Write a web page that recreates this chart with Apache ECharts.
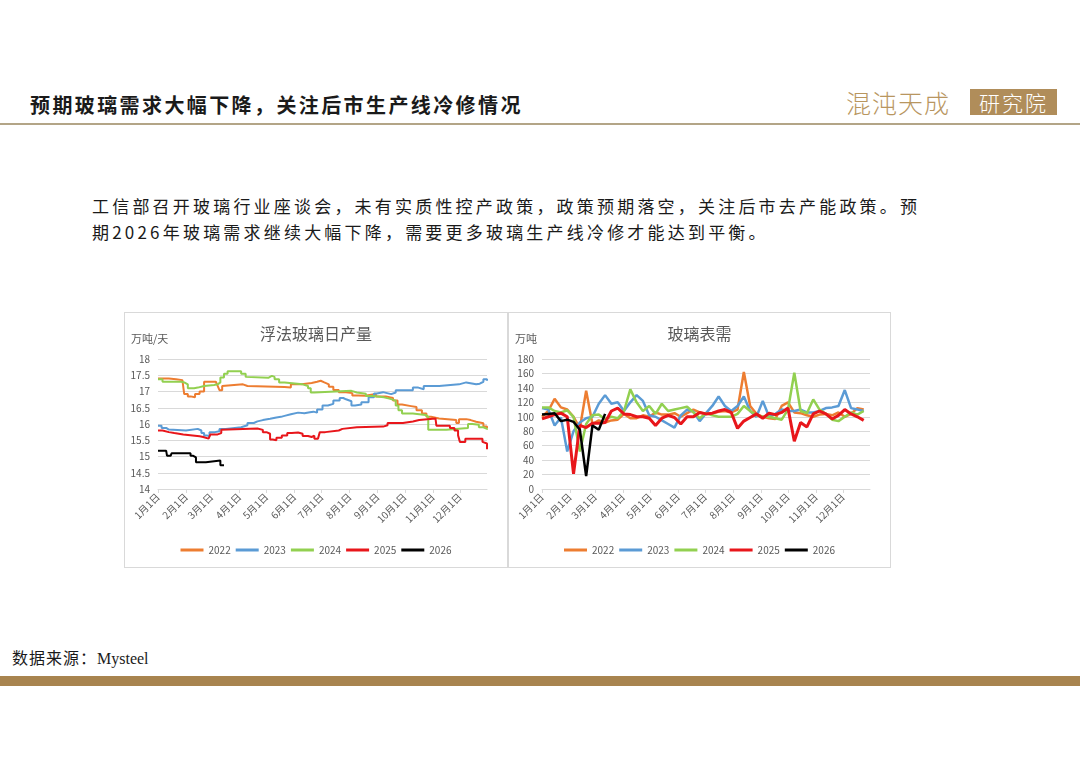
<!DOCTYPE html>
<html><head><meta charset="utf-8">
<script src="https://cdn.jsdelivr.net/npm/echarts@6/dist/echarts.min.js"></script>
<style>
body{margin:0;width:1080px;height:764px;background:#fff;position:relative;overflow:hidden;font-family:"Noto Sans CJK SC","Noto Sans",sans-serif;}
#title{position:absolute;left:30px;top:92px;font-size:20px;font-weight:bold;color:#1a1a1a;letter-spacing:2.4px;white-space:nowrap;line-height:26px;}
#sep{position:absolute;left:0;top:123px;width:1080px;height:2px;background:#b3a587;}
#logoA{position:absolute;left:846px;top:86px;font-size:25px;font-weight:300;color:#b8965f;letter-spacing:1px;white-space:nowrap;line-height:32px;}
#logoB{position:absolute;left:970px;top:89px;width:87px;height:26px;background:#b08d5a;color:#fff;font-size:21px;line-height:26px;text-align:center;letter-spacing:2px;font-weight:300;}
#para{position:absolute;left:92px;top:193px;font-size:17px;line-height:26px;color:#1a1a1a;letter-spacing:3.2px;white-space:nowrap;}
.box{position:absolute;top:312px;height:256px;border:1px solid #d9d9d9;box-sizing:border-box;background:#fff;}
#c1{left:124px;width:384px;}
#c2{left:508px;width:383px;}
#src{position:absolute;left:12px;top:648px;font-size:16px;color:#1a1a1a;line-height:22px;font-family:"Liberation Serif","Noto Sans CJK SC",serif;white-space:nowrap;}
#src span{letter-spacing:1px;}
#bar{position:absolute;left:0;top:676px;width:1080px;height:10px;background:#a8844f;}
</style></head>
<body>
<div id="title">预期玻璃需求大幅下降，关注后市生产线冷修情况</div>
<div id="logoA">混沌天成</div>
<div id="logoB">研究院</div>
<div id="sep"></div>
<div id="para">工信部召开玻璃行业座谈会，未有实质性控产政策，政策预期落空，关注后市去产能政策。预<br>期2026年玻璃需求继续大幅下降，需要更多玻璃生产线冷修才能达到平衡。</div>
<div id="c1" class="box"></div>
<div id="c2" class="box"></div>
<div id="src"><span>数据来源：</span>Mysteel</div>
<div id="bar"></div>
<script>
// ---------- shared axis data ----------
const monthLengths = [31,28,31,30,31,30,31,31,30,31,30,31];
const monthLabels = ['1月1日','2月1日','3月1日','4月1日','5月1日','6月1日','7月1日','8月1日','9月1日','10月1日','11月1日','12月1日'];
const seriesNames = ['2022','2023','2024','2025','2026'];
const seriesColors = ['#ED7D31','#5B9BD5','#92D050','#E8161B','#000000'];

// ---------- 浮法玻璃日产量 (万吨/天), [day of year, value] ----------
const prod2022 = [[0,17.4],[12,17.38],[20,17.35],[27,17.3],[29,16.92],[33,16.85],[36,16.82],[41,16.92],[46,17.0],[51,17.3],[64,17.28],[66,17.17],[68,17.04],[71,17.17],[73,17.22],[94,17.17],[99,17.14],[140,17.12],[147,17.22],[159,17.26],[170,17.3],[176,17.33],[180,17.28],[184,17.22],[189,17.15],[194,17.05],[200,16.98],[208,16.95],[215,16.88],[222,16.87],[229,16.92],[241,16.85],[252,16.8],[260,16.72],[265,16.6],[270,16.55],[280,16.52],[286,16.42],[292,16.32],[297,16.22],[302,16.17],[311,16.12],[330,16.03],[333,16.15],[341,16.12],[346,16.07],[352,16.02],[360,15.92],[364,15.87]];
const prod2023 = [[0,15.95],[4,15.88],[9,15.83],[12,15.8],[31,15.75],[33,15.85],[44,15.8],[48,15.72],[51,15.65],[54,15.62],[57,15.75],[63,15.78],[68,15.85],[75,15.88],[85,15.9],[92,15.96],[99,16.03],[106,16.08],[110,16.12],[116,16.16],[124,16.2],[131,16.22],[136,16.25],[140,16.3],[147,16.35],[155,16.33],[162,16.36],[168,16.38],[172,16.35],[176,16.45],[182,16.57],[188,16.62],[194,16.72],[201,16.8],[205,16.76],[208,16.7],[214,16.57],[218,16.6],[225,16.67],[233,16.82],[239,16.94],[242,16.98],[249,16.92],[258,16.97],[263,17.04],[282,17.12],[288,17.07],[294,17.17],[311,17.22],[333,17.28],[341,17.22],[352,17.24],[356,17.3],[360,17.38],[364,17.33]];
const prod2024 = [[0,17.38],[5,17.3],[26,17.28],[29,17.22],[33,17.1],[40,17.12],[44,17.17],[51,17.2],[62,17.22],[66,17.28],[69,17.43],[73,17.55],[77,17.62],[92,17.55],[97,17.45],[99,17.42],[122,17.48],[126,17.45],[129,17.38],[134,17.28],[140,17.22],[160,17.17],[166,17.1],[169,16.97],[173,16.95],[175,17.02],[214,16.97],[220,16.93],[230,16.86],[238,16.82],[250,16.78],[256,16.72],[263,16.57],[266,16.42],[270,16.32],[282,16.28],[296,16.22],[299,15.82],[319,15.88],[343,16.0],[348,15.98],[355,15.9],[360,15.85],[364,15.82]];
const prod2025 = [[0,15.8],[5,15.75],[12,15.72],[18,15.68],[28,15.62],[46,15.6],[50,15.55],[56,15.52],[58,15.68],[66,15.72],[70,15.82],[72,15.86],[110,15.82],[116,15.75],[120,15.7],[124,15.52],[127,15.5],[131,15.58],[137,15.65],[143,15.72],[148,15.74],[155,15.7],[160,15.63],[166,15.6],[170,15.64],[173,15.55],[177,15.6],[179,15.75],[185,15.8],[200,15.85],[204,15.8],[206,15.9],[220,15.92],[249,15.96],[254,16.03],[271,16.08],[282,16.12],[289,16.17],[307,16.22],[308,15.95],[323,15.88],[328,15.8],[332,15.65],[334,15.45],[340,15.55],[359,15.45],[361,15.4],[364,15.22]];
const prod2026 = [[0,15.18],[9,15.15],[10,15.02],[14,15.05],[15,15.1],[36,15.02],[39,14.97],[42,14.82],[53,14.88],[69,14.73],[73,14.72]];

// ---------- 玻璃表需 (万吨), weekly ----------
const dem2022 = [100,108,125,113,110,100,84,136,90,95,92,95,96,104,98,98,102,100,106,103,103,105,100,105,110,106,104,105,107,108,106,110,162,115,104,100,98,97,115,120,106,105,102,100,103,104,102,106,100,104,112,110];
const dem2023 = [112,110,88,99,52,80,92,98,100,118,130,118,120,108,120,130,122,102,100,95,90,85,102,110,107,94,105,115,128,115,108,115,128,108,100,122,100,104,110,108,108,110,106,106,108,112,113,115,137,112,110,108];
const dem2024 = [113,113,108,106,109,100,52,90,102,103,97,100,98,108,138,120,108,115,104,118,108,110,112,114,106,98,105,102,100,100,100,104,115,108,102,100,100,98,96,110,161,108,105,124,110,104,96,94,100,106,103,108];
const dem2025 = [97,100,103,105,100,21,88,85,91,91,92,108,112,104,103,100,100,98,88,98,102,99,90,100,100,106,104,105,108,110,106,84,94,99,104,98,105,103,106,112,66,92,86,104,108,104,97,102,110,104,100,95];
const dem2026 = [103,104,105,94,96,93,82,18,88,82,104];

// ---------- build ----------
const dayLabels = [];
monthLengths.forEach((n,m)=>{ for(let d=1; d<=n; d++) dayLabels.push((m+1)+'月'+d+'日'); });
const isMonthStart = (i) => monthLabels.indexOf(dayLabels[i]) >= 0;
const DAYS_PER_WEEK = 7;
const weekly = (arr) => arr.map((v,i)=>[i*DAYS_PER_WEEK, v]);

const FONT = '"Noto Sans CJK SC","Noto Sans",sans-serif';
const GRAY = '#595959';

function makeOption(title, unit, yMin, yMax, yInt, dataList, widths, step){
  return {
    animation:false,
    textStyle:{fontFamily:FONT},
    title:{text:title, left:'center', top:8, textStyle:{fontSize:16, fontWeight:'normal', color:GRAY, fontFamily:FONT}},
    graphic:[{type:'text', left:6, top:20, style:{text:unit, fontSize:11, fill:GRAY, fontFamily:FONT}}],
    legend:{bottom:7, left:'center', itemWidth:23, itemHeight:3, itemGap:5, icon:'rect',
      textStyle:{fontSize:10, color:GRAY, fontFamily:FONT}, data:seriesNames},
    grid:{left:33, right:20, top:46, bottom:78},
    xAxis:{type:'category', data:dayLabels, boundaryGap:false,
      axisLine:{lineStyle:{color:'#d9d9d9'}},
      axisTick:{show:true, interval:(i)=>isMonthStart(i), length:4, lineStyle:{color:'#d9d9d9'}},
      axisLabel:{interval:(i)=>isMonthStart(i), rotate:45, fontSize:10, color:GRAY, margin:6, fontFamily:FONT},
      splitLine:{show:false}},
    yAxis:{type:'value', min:yMin, max:yMax, interval:yInt,
      axisLine:{show:false}, axisTick:{show:false},
      axisLabel:{fontSize:10, color:GRAY, margin:8, fontFamily:FONT},
      splitLine:{lineStyle:{color:'#d9d9d9', width:1}}},
    series: dataList.map((d,i)=>({
      name:seriesNames[i], type:'line', data:d, step:step, showSymbol:false, symbol:'none',
      color:seriesColors[i], lineStyle:{width:widths[i], color:seriesColors[i]}, z:2+i
    }))
  };
}

const c1 = echarts.init(document.getElementById('c1'), null, {renderer:'canvas'});
c1.setOption(makeOption('浮法玻璃日产量','万吨/天',14,18,0.5,
  [prod2022,prod2023,prod2024,prod2025,prod2026],[2,2,2,2,2],'end'));
const c2 = echarts.init(document.getElementById('c2'), null, {renderer:'canvas'});
c2.setOption(makeOption('玻璃表需','万吨',0,180,20,
  [weekly(dem2022),weekly(dem2023),weekly(dem2024),weekly(dem2025),weekly(dem2026)],[2.5,2.5,2.5,3,2.5],false));
</script>
</body></html>
